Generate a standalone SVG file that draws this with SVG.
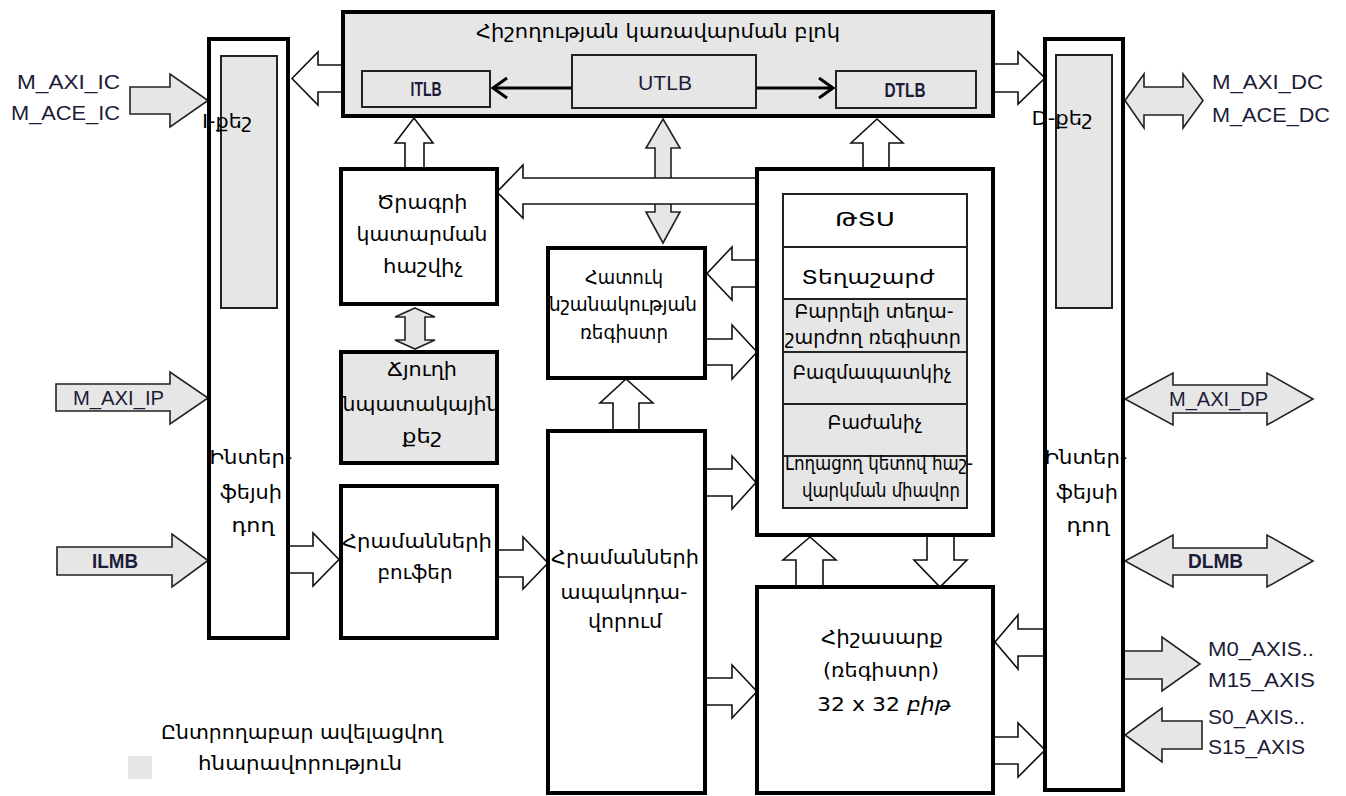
<svg xmlns="http://www.w3.org/2000/svg" width="1346" height="796" viewBox="0 0 1346 796">
  <style>
    .box{fill:#fff;stroke:#000;stroke-width:4}
    .gbox{fill:#e6e6e6;stroke:#000;stroke-width:4}
    .sub{fill:#fff;stroke:#222;stroke-width:2}
    .gsub{fill:#e6e6e6;stroke:#222;stroke-width:2}
    .ar{fill:#fff;stroke:#111;stroke-width:1.6;stroke-linejoin:miter}
    .gar{fill:#e6e6e6;stroke:#222;stroke-width:1.6}
    .ln{fill:none;stroke:#000;stroke-width:3}
    .hy{font-family:"DejaVu Sans","Noto Sans",sans-serif;font-size:20px;fill:#000;text-anchor:middle}
    .lb{font-family:"Liberation Sans",Arial,sans-serif;font-size:20px;fill:#1c1c38}
    .lbc{font-family:"Liberation Sans",Arial,sans-serif;font-size:20px;fill:#1c1c38;text-anchor:middle}
    .bd{font-weight:bold}
  </style>

  <!-- connectors: hollow and shaded block arrows -->
  <g id="connectors">
    <!-- MMU to I-cache / D-cache -->
    <path class="ar" d="M343,65 L318,65 L318,52 L292,78.5 L318,105 L318,92 L343,92 Z"/>
    <path class="ar" d="M993,64 L1018,64 L1018,52 L1045,78 L1018,104 L1018,92 L993,92 Z"/>
    <!-- external ports, left -->
    <path class="gar" d="M130,87 L170,87 L170,74 L208,100.5 L170,127 L170,114 L130,114 Z"/>
    <path class="gar" d="M56,384 L170,384 L170,372 L208,398 L170,424 L170,411 L56,411 Z"/>
    <path class="gar" d="M57,547 L172,547 L172,534 L208,560.5 L172,587 L172,575 L57,575 Z"/>
    <!-- external ports, right -->
    <path class="gar" d="M1125,100.5 L1144,74 L1144,87 L1183,87 L1183,74 L1203,100.5 L1183,128 L1183,115 L1144,115 L1144,128 Z"/>
    <path class="gar" d="M1125,399 L1173,373 L1173,385 L1267,385 L1267,373 L1313,399 L1267,425 L1267,413 L1173,413 L1173,425 Z"/>
    <path class="gar" d="M1125,561 L1173,535 L1173,548 L1267,548 L1267,535 L1313,561 L1267,587 L1267,575 L1173,575 L1173,587 Z"/>
    <path class="gar" d="M1122,651 L1162,651 L1162,637 L1200,664 L1162,691 L1162,679 L1122,679 Z"/>
    <path class="gar" d="M1202,721 L1162,721 L1162,708 L1125,735 L1162,762 L1162,749 L1202,749 Z"/>
    <!-- PC to ITLB -->
    <path class="ar" d="M405,169 L405,143 L395,143 L414,118 L433,143 L424,143 L424,169 Z"/>
    <!-- PC <-> branch target cache -->
    <path class="gar" d="M415,308 L435,317 L425,317 L425,340 L435,340 L415,349 L395,340 L405,340 L405,317 L395,317 Z"/>
    <!-- UTLB <-> special purpose register -->
    <path class="gar" d="M663,119 L680,148 L671,148 L671,212 L680,212 L663,243 L646,212 L655,212 L655,148 L646,148 Z"/>
    <!-- execution unit to PC (drawn over the vertical shaft) -->
    <path class="ar" d="M757,178 L523,178 L523,165 L497,192 L523,218 L523,204 L757,204 Z"/>
    <!-- execution unit to DTLB -->
    <path class="ar" d="M863,168 L863,143 L851,143 L877,119 L903,143 L889,143 L889,168 Z"/>
    <!-- special register <-> execution unit -->
    <path class="ar" d="M757,260 L732,260 L732,247 L707,273.5 L732,300 L732,287 L757,287 Z"/>
    <path class="ar" d="M705,339 L732,339 L732,325 L757,352 L732,379 L732,365 L705,365 Z"/>
    <!-- decoder to special register -->
    <path class="ar" d="M613,431 L613,403 L600,403 L626,379 L653,403 L639,403 L639,431 Z"/>
    <!-- interface to buffer, buffer to decoder -->
    <path class="ar" d="M288,546 L313,546 L313,533 L339,559.5 L313,586 L313,573 L288,573 Z"/>
    <path class="ar" d="M497,550 L523,550 L523,537 L548,563 L523,589 L523,577 L497,577 Z"/>
    <!-- decoder to execution unit / register file -->
    <path class="ar" d="M705,469 L732,469 L732,456 L756,482.5 L732,509 L732,496 L705,496 Z"/>
    <path class="ar" d="M705,678 L732,678 L732,665 L757,691.5 L732,718 L732,705 L705,705 Z"/>
    <!-- register file <-> execution unit -->
    <path class="ar" d="M796,587 L796,560 L783,560 L810,537 L836,560 L823,560 L823,587 Z"/>
    <path class="ar" d="M927,535 L927,560 L914,560 L940,587 L967,560 L954,560 L954,535 Z"/>
    <!-- D-side interface <-> register file -->
    <path class="ar" d="M1045,629 L1018,629 L1018,615 L995,642 L1018,669 L1018,656 L1045,656 Z"/>
    <path class="ar" d="M993,737 L1018,737 L1018,723 L1045,750 L1018,777 L1018,764 L993,764 Z"/>
  </g>

  <!-- memory management unit -->
  <g id="mmu">
    <rect class="gbox" x="343" y="12" width="650" height="104"/>
    <text class="hy" x="658" y="38" font-size="22" textLength="364" lengthAdjust="spacingAndGlyphs">Հիշողության կառավարման բլոկ</text>
  </g>
  <g id="itlb">
    <rect class="gsub" x="362" y="71" width="128" height="36"/>
    <text class="lbc bd" x="426" y="96" font-size="15" textLength="31" lengthAdjust="spacingAndGlyphs">ITLB</text>
  </g>
  <g id="utlb">
    <rect class="gsub" x="572" y="55" width="184" height="53"/>
    <text class="lbc" x="665" y="90" font-size="23" textLength="54" lengthAdjust="spacingAndGlyphs">UTLB</text>
  </g>
  <g id="dtlb">
    <rect class="gsub" x="836" y="71" width="140" height="37"/>
    <text class="lbc bd" x="905" y="97" font-size="15" textLength="41" lengthAdjust="spacingAndGlyphs">DTLB</text>
  </g>
  <g id="tlb-links">
    <line class="ln" x1="572" y1="88" x2="493" y2="88"/>
    <polyline class="ln" points="507,78 493,88 507,98"/>
    <line class="ln" x1="756" y1="88" x2="833" y2="88"/>
    <polyline class="ln" points="819,78 833,88 819,98"/>
  </g>

  <!-- instruction side interface with I-cache -->
  <g id="i-side">
    <rect class="box" x="209" y="39" width="79" height="599"/>
    <rect class="gsub" x="221" y="56" width="56" height="252"/>
    <text class="hy" x="227" y="128" font-size="22" textLength="50" lengthAdjust="spacingAndGlyphs">I-քեշ</text>
    <text class="hy" x="251" y="464" textLength="83" lengthAdjust="spacingAndGlyphs">Ինտեր-</text>
    <text class="hy" x="251" y="499" textLength="62" lengthAdjust="spacingAndGlyphs">ֆեյսի</text>
    <text class="hy" x="253" y="532" textLength="43" lengthAdjust="spacingAndGlyphs">դող</text>
  </g>

  <!-- data side interface with D-cache -->
  <g id="d-side">
    <rect class="box" x="1045" y="39" width="78" height="751"/>
    <rect class="gsub" x="1056" y="55" width="56" height="253"/>
    <text class="hy" x="1062" y="125" font-size="22" textLength="61" lengthAdjust="spacingAndGlyphs">D-քեշ</text>
    <text class="hy" x="1086" y="464" textLength="83" lengthAdjust="spacingAndGlyphs">Ինտեր-</text>
    <text class="hy" x="1087" y="499" textLength="62" lengthAdjust="spacingAndGlyphs">ֆեյսի</text>
    <text class="hy" x="1088" y="532" textLength="43" lengthAdjust="spacingAndGlyphs">դող</text>
  </g>

  <!-- program counter -->
  <g id="pc">
    <rect class="box" x="341" y="169" width="156" height="135"/>
    <text class="hy" x="422" y="209" textLength="91" lengthAdjust="spacingAndGlyphs">Ծրագրի</text>
    <text class="hy" x="422" y="241" textLength="131" lengthAdjust="spacingAndGlyphs">կատարման</text>
    <text class="hy" x="423" y="273" textLength="80" lengthAdjust="spacingAndGlyphs">հաշվիչ</text>
  </g>

  <!-- branch target cache -->
  <g id="btc">
    <rect class="gbox" x="341" y="352" width="156" height="111"/>
    <text class="hy" x="422" y="376" textLength="70" lengthAdjust="spacingAndGlyphs">Ճյուղի</text>
    <text class="hy" x="421" y="411" textLength="157" lengthAdjust="spacingAndGlyphs">նպատակային</text>
    <text class="hy" x="422" y="443" textLength="40" lengthAdjust="spacingAndGlyphs">քեշ</text>
  </g>

  <!-- special purpose register -->
  <g id="spr">
    <rect class="box" x="548" y="248" width="157" height="130"/>
    <text class="hy" x="624" y="284" textLength="78" lengthAdjust="spacingAndGlyphs">Հատուկ</text>
    <text class="hy" x="623" y="311" textLength="148" lengthAdjust="spacingAndGlyphs">նշանակության</text>
    <text class="hy" x="624" y="339" textLength="88" lengthAdjust="spacingAndGlyphs">ռեգիստր</text>
  </g>

  <!-- instruction buffer -->
  <g id="ibuf">
    <rect class="box" x="341" y="486" width="156" height="152"/>
    <text class="hy" x="417" y="548" textLength="150" lengthAdjust="spacingAndGlyphs">Հրամանների</text>
    <text class="hy" x="415" y="579" textLength="75" lengthAdjust="spacingAndGlyphs">բուֆեր</text>
  </g>

  <!-- instruction decoder -->
  <g id="decoder">
    <rect class="box" x="548" y="431" width="157" height="362"/>
    <text class="hy" x="625" y="564" textLength="148" lengthAdjust="spacingAndGlyphs">Հրամանների</text>
    <text class="hy" x="624" y="599" textLength="127" lengthAdjust="spacingAndGlyphs">ապակոդա-</text>
    <text class="hy" x="625" y="628" textLength="74" lengthAdjust="spacingAndGlyphs">վորում</text>
  </g>

  <!-- execution unit -->
  <g id="exec">
    <rect class="box" x="757" y="169" width="236" height="366"/>
    <rect class="sub" x="783" y="194" width="184" height="53"/>
    <rect class="sub" x="783" y="247" width="184" height="52"/>
    <rect class="gsub" x="783" y="299" width="184" height="53"/>
    <rect class="gsub" x="783" y="352" width="184" height="52"/>
    <rect class="gsub" x="783" y="404" width="184" height="52"/>
    <rect class="gsub" x="783" y="456" width="184" height="52"/>
    <text class="hy" x="865" y="226" font-size="21" textLength="60" lengthAdjust="spacingAndGlyphs">ԹՏՍ</text>
    <text class="hy" x="868" y="284" font-size="21" textLength="133" lengthAdjust="spacingAndGlyphs">Տեղաշարժ</text>
    <text class="hy" x="874" y="318" font-size="17" textLength="159" lengthAdjust="spacingAndGlyphs">Բարրելի տեղա-</text>
    <text class="hy" x="873" y="344" font-size="17" textLength="176" lengthAdjust="spacingAndGlyphs">շարժող ռեգիստր</text>
    <text class="hy" x="872" y="379" font-size="18" textLength="159" lengthAdjust="spacingAndGlyphs">Բազմապատկիչ</text>
    <text class="hy" x="875" y="429" font-size="18" textLength="95" lengthAdjust="spacingAndGlyphs">Բաժանիչ</text>
    <text class="hy" x="879" y="470" font-size="17" textLength="188" lengthAdjust="spacingAndGlyphs">Լողացող կետով հաշ-</text>
    <text class="hy" x="881" y="497" font-size="17" textLength="158" lengthAdjust="spacingAndGlyphs">վարկման միավոր</text>
  </g>

  <!-- register file -->
  <g id="regfile">
    <rect class="box" x="757" y="587" width="236" height="206"/>
    <text class="hy" x="882" y="644" textLength="122" lengthAdjust="spacingAndGlyphs">Հիշասարք</text>
    <text class="hy" x="881" y="677" textLength="116" lengthAdjust="spacingAndGlyphs">(ռեգիստր)</text>
    <text class="hy" x="884" y="711" textLength="134" lengthAdjust="spacingAndGlyphs">32 x 32 <tspan font-style="italic">բիթ</tspan></text>
  </g>

  <!-- bus labels -->
  <g id="labels">
    <text class="lb" x="17" y="89" textLength="103" lengthAdjust="spacingAndGlyphs">M_AXI_IC</text>
    <text class="lb" x="11" y="120" textLength="109" lengthAdjust="spacingAndGlyphs">M_ACE_IC</text>
    <text class="lb" x="73" y="405" font-size="19" textLength="91" lengthAdjust="spacingAndGlyphs">M_AXI_IP</text>
    <text class="lb bd" x="92" y="568" font-size="19" textLength="46" lengthAdjust="spacingAndGlyphs">ILMB</text>
    <text class="lb" x="1212" y="89" textLength="111" lengthAdjust="spacingAndGlyphs">M_AXI_DC</text>
    <text class="lb" x="1212" y="122" textLength="118" lengthAdjust="spacingAndGlyphs">M_ACE_DC</text>
    <text class="lb" x="1169" y="406" font-size="19" textLength="99" lengthAdjust="spacingAndGlyphs">M_AXI_DP</text>
    <text class="lb bd" x="1188" y="568" font-size="19" textLength="55" lengthAdjust="spacingAndGlyphs">DLMB</text>
    <text class="lb" x="1208" y="656" textLength="106" lengthAdjust="spacingAndGlyphs">M0_AXIS..</text>
    <text class="lb" x="1208" y="687" textLength="107" lengthAdjust="spacingAndGlyphs">M15_AXIS</text>
    <text class="lb" x="1208" y="724" textLength="97" lengthAdjust="spacingAndGlyphs">S0_AXIS..</text>
    <text class="lb" x="1208" y="754" textLength="97" lengthAdjust="spacingAndGlyphs">S15_AXIS</text>
  </g>

  <!-- legend -->
  <g id="legend">
    <rect x="128" y="756" width="24" height="23" fill="#e6e6e6"/>
    <text class="hy" x="302" y="739" textLength="282" lengthAdjust="spacingAndGlyphs">Ընտրողաբար ավելացվող</text>
    <text class="hy" x="300" y="770" textLength="204" lengthAdjust="spacingAndGlyphs">հնարավորություն</text>
  </g>
</svg>
